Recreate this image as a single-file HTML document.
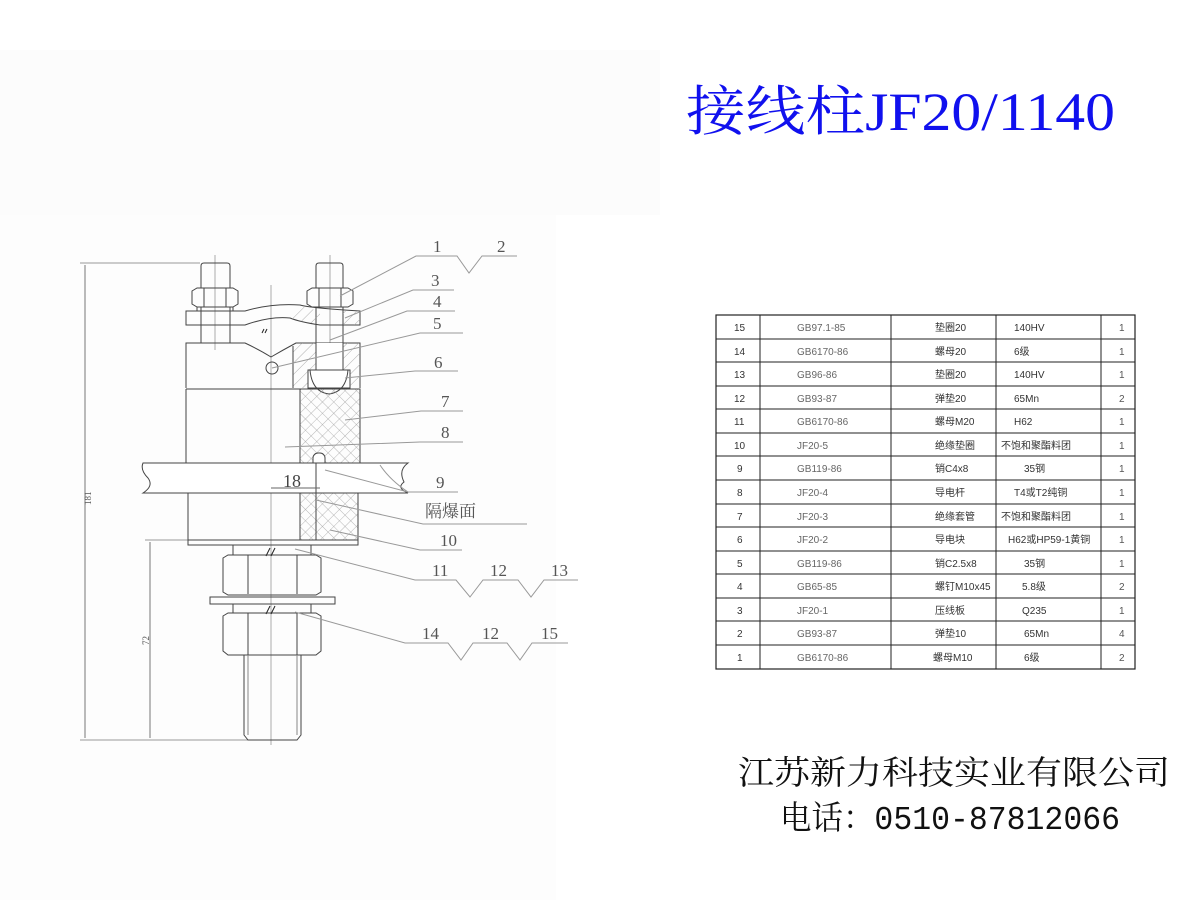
<!DOCTYPE html>
<html><head><meta charset="utf-8"><style>
html,body{margin:0;padding:0;background:#fff;}
svg{display:block}
</style></head><body>
<svg width="1200" height="900" viewBox="0 0 1200 900" xmlns="http://www.w3.org/2000/svg">
<defs>
<pattern id="hatch" width="8" height="8" patternUnits="userSpaceOnUse" patternTransform="rotate(45)">
<line x1="0" y1="0" x2="0" y2="8" stroke="#999" stroke-width="0.8"/></pattern>
<pattern id="cross" width="8" height="8" patternUnits="userSpaceOnUse" patternTransform="rotate(45)">
<line x1="0" y1="0" x2="0" y2="8" stroke="#999" stroke-width="0.7"/><line x1="0" y1="0" x2="8" y2="0" stroke="#999" stroke-width="0.7"/></pattern>
</defs>
<rect x="0" y="50" width="660" height="165" fill="#fcfcfc"/>
<rect x="0" y="215" width="556" height="685" fill="#fdfdfd"/>

<text x="686" y="130" font-family="Liberation Serif, Noto Serif CJK SC, serif" font-size="54" fill="#1010ee" textLength="429" lengthAdjust="spacingAndGlyphs">接线柱JF20/1140</text>
<text x="738" y="784" font-family="Liberation Serif, Noto Serif CJK SC, serif" font-size="33" fill="#111" textLength="432" lengthAdjust="spacingAndGlyphs">江苏新力科技实业有限公司</text>
<text x="780" y="829" font-family="Liberation Mono, Noto Serif CJK SC, serif" font-size="33" fill="#111" textLength="340" lengthAdjust="spacingAndGlyphs">电话：0510-87812066</text>

<g stroke="#444" stroke-width="1" fill="none">
<!-- dims -->
<line x1="80" y1="263" x2="200" y2="263" stroke="#999"/>
<line x1="80" y1="740" x2="250" y2="740" stroke="#999"/>
<line x1="85" y1="265" x2="85" y2="738" stroke="#777"/>
<line x1="145" y1="540" x2="188" y2="540" stroke="#999"/>
<line x1="150" y1="542" x2="150" y2="738" stroke="#777"/>
<!-- centerlines -->
<line x1="271" y1="285" x2="271" y2="745" stroke="#aaa"/>
<line x1="215" y1="255" x2="215" y2="350" stroke="#aaa"/>
<line x1="330" y1="255" x2="330" y2="385" stroke="#aaa"/>
<!-- studs top -->
<path d="M201 288 V266 Q201 263 204 263 H227 Q230 263 230 266 V288"/>
<path d="M316 288 V266 Q316 263 319 263 H340 Q343 263 343 266 V288"/>
<path d="M192 291 L197 288 H233 L238 291 V304 L233 307 H197 L192 304 Z"/>
<path d="M204 288 V307 M226 288 V307"/>
<path d="M307 291 L312 288 H348 L353 291 V304 L348 307 H312 L307 304 Z"/>
<path d="M319 288 V307 M341 288 V307"/>
<path d="M201 307 V343 M230 307 V343 M197 307 V311 M233 307 V311"/>
<path d="M316 307 V370 M343 307 V370"/>
<!-- clamp plate -->
<path d="M186 311 H245 Q272 303 300 305 Q310 308 360 311 V325 H320 Q300 322 290 318 Q270 316 245 325 H186 Z"/>
<path d="M300 306 L320 311 V324 Q300 322 290 318 Z" fill="url(#hatch)" stroke="none"/>
<rect x="343" y="311" width="17" height="14" fill="url(#hatch)" stroke="none"/>
<!-- upper block -->
<path d="M186 388 V343 H245 Q260 350 271 357 Q283 350 296 343 H360 V388"/>
<rect x="293" y="343" width="67" height="45" fill="url(#hatch)" stroke="none"/>
<path d="M293 346 V388"/>
<rect x="316" y="343" width="27" height="27" fill="#fff" stroke="none"/>
<path d="M316 343 V370 M343 343 V370"/>
<circle cx="272" cy="368" r="6"/>
<path d="M308 370 H350 V388 H308 Z" fill="#fff"/>
<path d="M310 370 Q312 392 329 394 Q346 392 348 370"/>
<line x1="186" y1="389" x2="360" y2="389"/>
<!-- lower body -->
<rect x="300" y="389" width="60" height="74" fill="url(#cross)" stroke="#444"/>
<path d="M186 389 V463 M300 389 V463"/>
<rect x="313" y="453" width="12" height="30" rx="5" fill="#fff"/>
<!-- wall -->
<path d="M143 463 H408 Q398 470 404 482 Q396 488 408 493 H143 Q154 486 148 478 Q140 470 143 463 Z" fill="#fff"/>
<path d="M316 463 V500" stroke="#444"/>
<!-- 18 dim -->
<line x1="271" y1="488" x2="320" y2="488" stroke="#666"/>
<text x="283" y="487" font-family="Liberation Serif, serif" font-size="18" fill="#444" stroke="none">18</text>
<!-- below wall -->
<rect x="300" y="493" width="58" height="47" fill="url(#cross)" stroke="#444"/>
<path d="M316 493 V540"/>
<path d="M188 493 V540"/>
<rect x="188" y="540" width="170" height="5"/>
<!-- stud below -->
<path d="M233 545 V555 M311 545 V555"/>
<path d="M223 558 L228 555 H316 L321 558 V592 L316 595 H228 L223 592 Z"/>
<path d="M248 555 V594 M297 555 V594"/>
<rect x="210" y="597" width="125" height="7"/>
<path d="M233 604 V613 M311 604 V613"/>
<path d="M223 616 L228 613 H316 L321 616 V651 L316 655 H228 L223 651 Z"/>
<path d="M248 613 V655 M297 613 V655"/>
<path d="M244 655 V735 L248 740 H297 L301 735 V655"/>
<path d="M248 655 V735 M297 655 V735" stroke="#888"/>
<path d="M270 548 L266 556 M275 548 L271 556 M270 606 L266 614 M275 606 L271 614 M264 329 L262 333 M267 329 L265 333" stroke="#222"/>
</g>
<g font-family="Liberation Serif, serif" font-size="9" fill="#555">
<text transform="translate(91,505) rotate(-90)">181</text>
<text transform="translate(149,645) rotate(-90)">72</text>
</g>
<!-- leaders -->
<g stroke="#999" stroke-width="1" fill="none">
<path d="M340 296 L416 256 H457 L469 273 L482 256 H517"/>
<path d="M345 318 L413 290 H454"/>
<path d="M330 340 L407 311 H455"/>
<path d="M272 368 L420 333 H463"/>
<path d="M345 378 L415 371 H458"/>
<path d="M345 420 L421 411 H463"/>
<path d="M285 447 L420 442 H463"/>
<path d="M325 470 L408 492 H458 M380 465 Q390 480 408 492"/>
<path d="M316 500 L423 524 H527"/>
<path d="M330 530 L420 550 H462"/>
<path d="M295 549 L415 580 H456 L470 597 L483 580 H518 L531 597 L544 580 H578"/>
<path d="M295 612 L405 643 H448 L461 660 L473 643 H507 L520 660 L532 643 H568"/>
</g>
<g font-family="Liberation Serif, Noto Serif CJK SC, serif" font-size="17" fill="#555">
<text x="433" y="252">1</text><text x="497" y="252">2</text>
<text x="431" y="286">3</text><text x="433" y="307">4</text><text x="433" y="329">5</text>
<text x="434" y="368">6</text><text x="441" y="407">7</text><text x="441" y="438">8</text>
<text x="436" y="488">9</text><text x="425" y="517">隔爆面</text><text x="440" y="546">10</text>
<text x="432" y="576">11</text><text x="490" y="576">12</text><text x="551" y="576">13</text>
<text x="422" y="639">14</text><text x="482" y="639">12</text><text x="541" y="639">15</text>
</g>

<!-- table -->
<g stroke="#222" stroke-width="1" fill="none">
<rect x="716" y="315" width="419" height="354" stroke-width="1.2"/>
<path d="M760 315 V669 M891 315 V669 M996 315 V669 M1101 315 V669"/>
<path d="M716 339 H1135 M716 362 H1135 M716 386 H1135 M716 409 H1135 M716 433 H1135 M716 456 H1135 M716 480 H1135 M716 504 H1135 M716 527 H1135 M716 551 H1135 M716 574 H1135 M716 598 H1135 M716 621 H1135 M716 645 H1135"/>
</g>
<g font-family="Liberation Sans, Noto Sans CJK SC, sans-serif" font-size="10" fill="#333">
<g>
<text x="734" y="331">15</text><text x="734" y="355">14</text><text x="734" y="378">13</text><text x="734" y="402">12</text><text x="734" y="425">11</text><text x="734" y="449">10</text>
<text x="737" y="472">9</text><text x="737" y="496">8</text><text x="737" y="520">7</text><text x="737" y="543">6</text><text x="737" y="567">5</text><text x="737" y="590">4</text><text x="737" y="614">3</text><text x="737" y="637">2</text><text x="737" y="661">1</text>
</g>
<g fill="#666">
<text x="797" y="331">GB97.1-85</text><text x="797" y="355">GB6170-86</text><text x="797" y="378">GB96-86</text><text x="797" y="402">GB93-87</text><text x="797" y="425">GB6170-86</text><text x="797" y="449">JF20-5</text><text x="797" y="472">GB119-86</text><text x="797" y="496">JF20-4</text><text x="797" y="520">JF20-3</text><text x="797" y="543">JF20-2</text><text x="797" y="567">GB119-86</text><text x="797" y="590">GB65-85</text><text x="797" y="614">JF20-1</text><text x="797" y="637">GB93-87</text><text x="797" y="661">GB6170-86</text>
</g>
<g>
<text x="935" y="331">垫圈20</text><text x="935" y="355">螺母20</text><text x="935" y="378">垫圈20</text><text x="935" y="402">弹垫20</text><text x="935" y="425">螺母M20</text><text x="935" y="449">绝缘垫圈</text><text x="935" y="472">销C4x8</text><text x="935" y="496">导电杆</text><text x="935" y="520">绝缘套管</text><text x="935" y="543">导电块</text><text x="935" y="567">销C2.5x8</text><text x="935" y="590">螺钉M10x45</text><text x="935" y="614">压线板</text><text x="935" y="637">弹垫10</text><text x="933" y="661">螺母M10</text>
</g>
<g>
<text x="1014" y="331">140HV</text><text x="1014" y="355">6级</text><text x="1014" y="378">140HV</text><text x="1014" y="402">65Mn</text><text x="1014" y="425">H62</text><text x="1001" y="449">不饱和聚酯料团</text><text x="1024" y="472">35钢</text><text x="1014" y="496">T4或T2纯铜</text><text x="1001" y="520">不饱和聚酯料团</text><text x="1008" y="543">H62或HP59-1黄铜</text><text x="1024" y="567">35钢</text><text x="1022" y="590">5.8级</text><text x="1022" y="614">Q235</text><text x="1024" y="637">65Mn</text><text x="1024" y="661">6级</text>
</g>
<g fill="#555">
<text x="1119" y="331">1</text><text x="1119" y="355">1</text><text x="1119" y="378">1</text><text x="1119" y="402">2</text><text x="1119" y="425">1</text><text x="1119" y="449">1</text><text x="1119" y="472">1</text><text x="1119" y="496">1</text><text x="1119" y="520">1</text><text x="1119" y="543">1</text><text x="1119" y="567">1</text><text x="1119" y="590">2</text><text x="1119" y="614">1</text><text x="1119" y="637">4</text><text x="1119" y="661">2</text>
</g>
</g>
</svg>
</body></html>
